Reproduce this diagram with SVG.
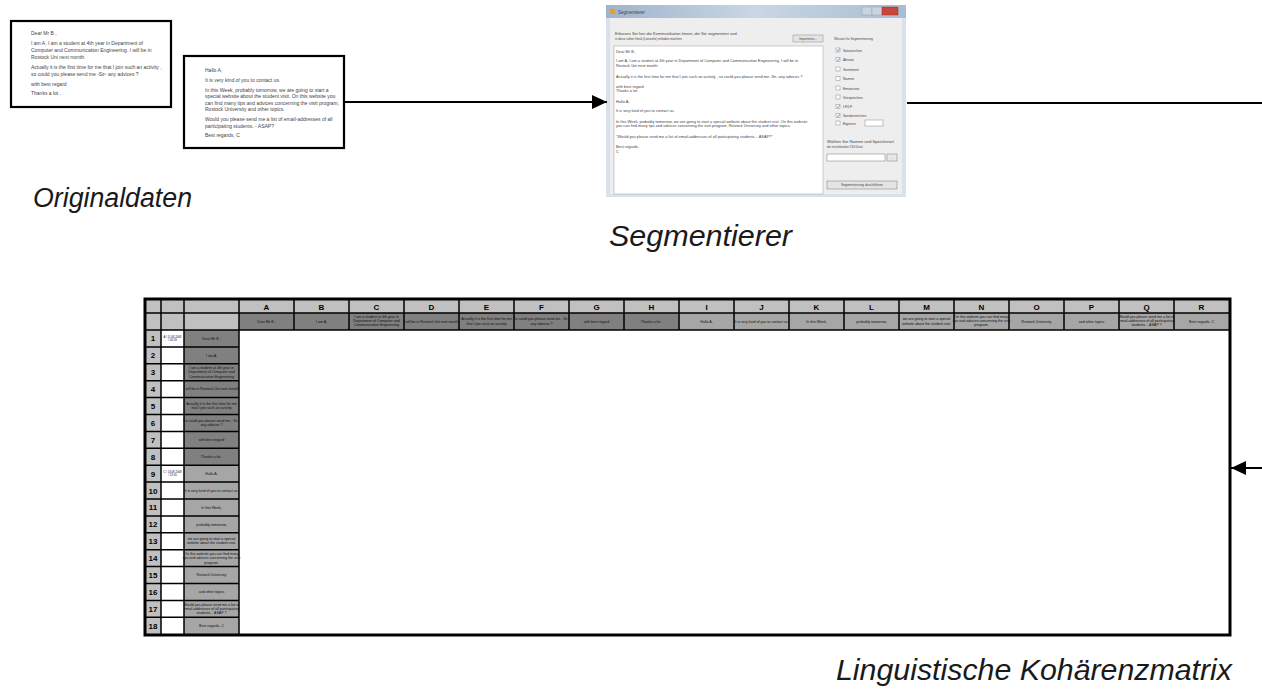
<svg xmlns="http://www.w3.org/2000/svg" width="1262" height="696" viewBox="0 0 1262 696">
<defs>
<style>
.doc{fill:#fff;stroke:#000;stroke-width:2.2}
.dt{font-family:"Liberation Sans",Arial,sans-serif;font-size:5px;fill:#444}
.lbl{font-family:"Liberation Sans",Arial,sans-serif;font-style:italic;fill:#1a1a1a}
.ct{font-family:"Liberation Sans",Arial,sans-serif;font-size:3.6px;text-anchor:middle;fill:#111}
.ts{font-family:"Liberation Sans",Arial,sans-serif;font-size:2.8px;text-anchor:middle;fill:#111}
.hl{font-family:"Liberation Sans",Arial,sans-serif;font-size:8px;font-weight:bold;text-anchor:middle;fill:#000}
.rn{font-family:"Liberation Sans",Arial,sans-serif;font-size:8px;font-weight:bold;text-anchor:middle;fill:#000}
.g{stroke:#000;stroke-width:1.5;fill:none}
.conn{stroke:#000;stroke-width:2;fill:none}
.st{font-family:"Liberation Sans",Arial,sans-serif;fill:#444}
.cb{fill:#fff;stroke:#8a8a8a;stroke-width:0.5}
</style>
<marker id="ah" markerUnits="userSpaceOnUse" markerWidth="16" markerHeight="14" refX="15" refY="7" orient="auto">
<path d="M0,0 L15,7 L0,14 z" fill="#000"/>
</marker>
<linearGradient id="tb" x1="0" y1="0" x2="1" y2="0">
<stop offset="0" stop-color="#9fb4cc"/>
<stop offset="0.5" stop-color="#c9d6e4"/>
<stop offset="1" stop-color="#a9bdd2"/>
</linearGradient>
</defs>
<rect width="1262" height="696" fill="#fff"/>

<g id="doc1">
<rect class="doc" x="11" y="21" width="160" height="86"/>
<text class="dt" x="31" y="35">Dear Mr B ,</text>
<text class="dt" x="31" y="45">I am A, I am a student at 4th year in Department of</text>
<text class="dt" x="31" y="52">Computer and Communication Engineering. I will be in</text>
<text class="dt" x="31" y="59">Rostock Uni next month.</text>
<text class="dt" x="31" y="69">Actually it is the first time for me that I join such an activity ,</text>
<text class="dt" x="31" y="75.5">so could you please send me -Sir- any advices ?</text>
<text class="dt" x="31" y="85.5">with best regard</text>
<text class="dt" x="31" y="95">Thanks a lot .</text>
</g>

<g id="doc2">
<rect class="doc" x="184" y="56" width="160" height="92"/>
<text class="dt" x="205" y="71.5">Hallo A,</text>
<text class="dt" x="205" y="81.5">It is very kind of you to contact us.</text>
<text class="dt" x="205" y="91.5">In this Week, probably tomorrow, we are going to start a</text>
<text class="dt" x="205" y="98">special website about the student visit. On this website you</text>
<text class="dt" x="205" y="104.5">can find many tips and advices concerning the visit program,</text>
<text class="dt" x="205" y="111">Rostock University and other topics.</text>
<text class="dt" x="205" y="120.5">Would you please send me a list of email-addresses of all</text>
<text class="dt" x="205" y="127.5">participating students. - ASAP?</text>
<text class="dt" x="205" y="136.5">Best regards, C</text>
</g>

<g id="segmentierer">
<rect x="606" y="5" width="300" height="192" fill="#d9e1ea"/>
<rect x="606" y="5" width="300" height="13" fill="url(#tb)"/>
<rect x="610" y="9" width="5" height="5" fill="#e0a030"/>
<text class="st" x="618" y="14" font-size="4.5">Segmentierer</text>
<rect x="862" y="7" width="10" height="8" fill="#c9d4e0" stroke="#8898aa" stroke-width="0.4"/>
<rect x="872" y="7" width="10" height="8" fill="#c9d4e0" stroke="#8898aa" stroke-width="0.4"/>
<rect x="882" y="7" width="16" height="8" fill="#c8463a" stroke="#8a2a22" stroke-width="0.4"/>
<rect x="610" y="18" width="292" height="176" fill="#eeeeee"/>
<text class="st" x="615" y="35" font-size="4">Erfassen Sie hier die Kommunikation hinein, die Sie segmentiert und</text>
<text class="st" x="615" y="39.5" font-size="3">in diese sollen Inhalt (Leerzeile) mitladen möchten</text>
<rect x="793" y="35" width="30" height="7" fill="#e4e4e4" stroke="#8a8a8a" stroke-width="0.5"/>
<text class="st" x="808" y="39.6" font-size="3" text-anchor="middle">Importieren...</text>
<rect x="614" y="46" width="209" height="148" fill="#fff" stroke="#a0a0a0" stroke-width="0.5"/>
<g font-size="3.9">
<text class="st" x="616" y="53">Dear Mr B ,</text>
<text class="st" x="616" y="62">I am A, I am a student at 4th year in Department of Computer and Communication Engineering. I will be in</text>
<text class="st" x="616" y="66.5">Rostock Uni next month.</text>
<text class="st" x="616" y="78">Actually it is the first time for me that I join such an activity , so could you please send me -Sir- any advices ?</text>
<text class="st" x="616" y="87.5">with best regard</text>
<text class="st" x="616" y="92">Thanks a lot .</text>
<text class="st" x="616" y="103">Hallo A,</text>
<text class="st" x="616" y="112">It is very kind of you to contact us.</text>
<text class="st" x="616" y="122.5">In this Week, probably tomorrow, we are going to start a special website about the student visit. On this website</text>
<text class="st" x="616" y="127">you can find many tips and advices concerning the visit program, Rostock University and other topics.</text>
<text class="st" x="616" y="138">"Would you please send me a list of email-addresses of all participating students. - ASAP?"</text>
<text class="st" x="616" y="148">Best regards,</text>
<text class="st" x="616" y="152.5">C</text>
</g>
<text class="st" x="834" y="39.5" font-size="3.3">Wissen für Segmentierung</text>
<g font-size="3.5">
<rect class="cb" x="836" y="48" width="4" height="4"/><text class="st" x="843" y="51.5">Satzzeichen</text>
<rect class="cb" x="836" y="57.5" width="4" height="4"/><text class="st" x="843" y="61">Absatz</text>
<rect class="cb" x="836" y="67" width="4" height="4"/><text class="st" x="843" y="70.5">Sentiment</text>
<rect class="cb" x="836" y="76.5" width="4" height="4"/><text class="st" x="843" y="80">Namen</text>
<rect class="cb" x="836" y="86" width="4" height="4"/><text class="st" x="843" y="89.5">Emoticons</text>
<rect class="cb" x="836" y="95" width="4" height="4"/><text class="st" x="843" y="98.5">Versprechen</text>
<rect class="cb" x="836" y="104.5" width="4" height="4"/><text class="st" x="843" y="108">LF/LF</text>
<rect class="cb" x="836" y="113.5" width="4" height="4"/><text class="st" x="843" y="117">Sonderzeichen</text>
<rect class="cb" x="836" y="121" width="4" height="4"/><text class="st" x="843" y="124.5">Eigenes</text>
<rect class="cb" x="865" y="120" width="18" height="6"/>
</g>
<g stroke="#3a5a8a" stroke-width="0.6" fill="none">
<path d="M836.8,50 l1.2,1.2 l1.6,-2.4"/>
<path d="M836.8,59.5 l1.2,1.2 l1.6,-2.4"/>
<path d="M836.8,106.5 l1.2,1.2 l1.6,-2.4"/>
<path d="M836.8,115.5 l1.2,1.2 l1.6,-2.4"/>
</g>
<text class="st" x="827" y="143" font-size="4.2">Wählen Sie Namen und Speicherort</text>
<text class="st" x="827" y="147.5" font-size="2.8">der entstehenden CSV-Datei</text>
<rect x="827" y="154" width="58" height="7" fill="#fff" stroke="#7a7a7a" stroke-width="0.5"/>
<rect x="887" y="154" width="10" height="7" fill="#e8e8e8" stroke="#7a7a7a" stroke-width="0.5"/>
<text class="st" x="892" y="158.5" font-size="3" text-anchor="middle">...</text>
<rect x="827" y="181" width="70" height="8" fill="#e4e4e4" stroke="#7a7a7a" stroke-width="0.5"/>
<text class="st" x="862" y="186" font-size="3.4" text-anchor="middle">Segmentierung durchführen</text>
</g>

<g id="matrix">
<rect x="145" y="300" width="1085" height="13" fill="#c0c0c0"/>
<rect x="145" y="313" width="94" height="17" fill="#c0c0c0"/>
<rect x="239" y="313" width="440" height="17" fill="#808080"/>
<rect x="679" y="313" width="550" height="17" fill="#a6a6a6"/>
<rect x="145" y="330" width="16" height="304.2" fill="#c0c0c0"/>
<rect x="184" y="330" width="55" height="135.2" fill="#808080"/>
<rect x="184" y="465.2" width="55" height="169" fill="#a6a6a6"/>
<path class="g" d="M161,300V634.2M184,300V634.2M239,300V634.2M294,300V330M349,300V330M404,300V330M459,300V330M514,300V330M569,300V330M624,300V330M679,300V330M734,300V330M789,300V330M844,300V330M899,300V330M954,300V330M1009,300V330M1064,300V330M1119,300V330M1174,300V330M145,313H1229M145,330H1229M145,346.9H239M145,363.8H239M145,380.7H239M145,397.6H239M145,414.5H239M145,431.4H239M145,448.3H239M145,465.2H239M145,482.1H239M145,499H239M145,515.9H239M145,532.8H239M145,549.7H239M145,566.6H239M145,583.5H239M145,600.4H239M145,617.3H239"/>
<rect x="145" y="299" width="1085" height="336" fill="none" stroke="#000" stroke-width="3"/>
<g>
<text class="hl" x="266.5" y="310">A</text><text class="hl" x="321.5" y="310">B</text><text class="hl" x="376.5" y="310">C</text><text class="hl" x="431.5" y="310">D</text><text class="hl" x="486.5" y="310">E</text><text class="hl" x="541.5" y="310">F</text><text class="hl" x="596.5" y="310">G</text><text class="hl" x="651.5" y="310">H</text><text class="hl" x="706.5" y="310">I</text><text class="hl" x="761.5" y="310">J</text><text class="hl" x="816.5" y="310">K</text><text class="hl" x="871.5" y="310">L</text><text class="hl" x="926.5" y="310">M</text><text class="hl" x="981.5" y="310">N</text><text class="hl" x="1036.5" y="310">O</text><text class="hl" x="1091.5" y="310">P</text><text class="hl" x="1146.5" y="310">Q</text><text class="hl" x="1201.5" y="310">R</text>
</g>
<g>
<text class="ct" x="266.5" y="322.7">Dear Mr B ,</text>
<text class="ct" x="321.5" y="322.7">I am A,</text>
<text class="ct" x="376.5" y="318">I am a student at 4th year in</text><text class="ct" x="376.5" y="322.2">Department of Computer and</text><text class="ct" x="376.5" y="326.4">Communication Engineering</text>
<text class="ct" x="431.5" y="322.7">I will be in Rostock Uni next month.</text>
<text class="ct" x="486.5" y="320.4">Actually it is the first time for me</text><text class="ct" x="486.5" y="324.6">that I join such an activity</text>
<text class="ct" x="541.5" y="320.4">So could you please send me - Sir -</text><text class="ct" x="541.5" y="324.6">any advices ?</text>
<text class="ct" x="596.5" y="322.7">with best regard</text>
<text class="ct" x="651.5" y="322.7">Thanks a lot .</text>
<text class="ct" x="706.5" y="322.7">Hallo A,</text>
<text class="ct" x="761.5" y="322.7">It is very kind of you to contact us.</text>
<text class="ct" x="816.5" y="322.7">In this Week,</text>
<text class="ct" x="871.5" y="322.7">probably tomorrow,</text>
<text class="ct" x="926.5" y="320.4">we are going to start a special</text><text class="ct" x="926.5" y="324.6">website about the student visit.</text>
<text class="ct" x="981.5" y="318">On this website you can find many</text><text class="ct" x="981.5" y="322.2">tips and advices concerning the visit</text><text class="ct" x="981.5" y="326.4">program.</text>
<text class="ct" x="1036.5" y="322.7">Rostock University</text>
<text class="ct" x="1091.5" y="322.7">and other topics</text>
<text class="ct" x="1146.5" y="318">Would you please send me a list of</text><text class="ct" x="1146.5" y="322.2">email-addresses of all participating</text><text class="ct" x="1146.5" y="326.4">students. - ASAP ?</text>
<text class="ct" x="1201.5" y="322.7">Best regards, C</text>
</g>
<g>
<text class="rn" x="153" y="341.4">1</text><text class="rn" x="153" y="358.3">2</text><text class="rn" x="153" y="375.2">3</text><text class="rn" x="153" y="392.1">4</text><text class="rn" x="153" y="409">5</text><text class="rn" x="153" y="425.9">6</text><text class="rn" x="153" y="442.8">7</text><text class="rn" x="153" y="459.7">8</text><text class="rn" x="153" y="476.6">9</text><text class="rn" x="153" y="493.5">10</text><text class="rn" x="153" y="510.4">11</text><text class="rn" x="153" y="527.3">12</text><text class="rn" x="153" y="544.2">13</text><text class="rn" x="153" y="561.1">14</text><text class="rn" x="153" y="578">15</text><text class="rn" x="153" y="594.9">16</text><text class="rn" x="153" y="611.8">17</text><text class="rn" x="153" y="628.7">18</text>
</g>
<g>
<text class="ts" x="172.5" y="337.6">A / 11.08.2008</text><text class="ts" x="172.5" y="341">/ 04:59</text>
<text class="ts" x="172.5" y="472.8">C / 13.08.2008</text><text class="ts" x="172.5" y="476.2">/ 13:45</text>
</g>
<g>
<text class="ct" x="211.5" y="339.7">Dear Mr B ,</text>
<text class="ct" x="211.5" y="356.6">I am A,</text>
<text class="ct" x="211.5" y="369.2">I am a student at 4th year in</text><text class="ct" x="211.5" y="373.4">Department of Computer and</text><text class="ct" x="211.5" y="377.6">Communication Engineering</text>
<text class="ct" x="211.5" y="390.4">I will be in Rostock Uni next month.</text>
<text class="ct" x="211.5" y="405">Actually it is the first time for me</text><text class="ct" x="211.5" y="409.2">that I join such an activity</text>
<text class="ct" x="211.5" y="421.9">So could you please send me - Sir -</text><text class="ct" x="211.5" y="426.1">any advices ?</text>
<text class="ct" x="211.5" y="441.1">with best regard</text>
<text class="ct" x="211.5" y="458">Thanks a lot .</text>
<text class="ct" x="211.5" y="474.9">Hallo A,</text>
<text class="ct" x="211.5" y="491.8">It is very kind of you to contact us.</text>
<text class="ct" x="211.5" y="508.7">In this Week,</text>
<text class="ct" x="211.5" y="525.6">probably tomorrow,</text>
<text class="ct" x="211.5" y="540.2">we are going to start a special</text><text class="ct" x="211.5" y="544.4">website about the student visit.</text>
<text class="ct" x="211.5" y="555.1">On this website you can find many</text><text class="ct" x="211.5" y="559.3">tips and advices concerning the visit</text><text class="ct" x="211.5" y="563.5">program.</text>
<text class="ct" x="211.5" y="576.3">Rostock University</text>
<text class="ct" x="211.5" y="593.2">and other topics</text>
<text class="ct" x="211.5" y="605.8">Would you please send me a list of</text><text class="ct" x="211.5" y="610">email-addresses of all participating</text><text class="ct" x="211.5" y="614.2">students. - ASAP ?</text>
<text class="ct" x="211.5" y="627">Best regards, C</text>
</g>
</g>

<g id="connectors">
<path class="conn" d="M344,102H607" marker-end="url(#ah)"/>
<path class="conn" d="M907,103H1262"/>
<path class="conn" d="M1262,468H1231" marker-end="url(#ah)"/>
</g>

<g id="labels">
<text class="lbl" x="33" y="207" font-size="27" textLength="159" lengthAdjust="spacingAndGlyphs">Originaldaten</text>
<text class="lbl" x="609" y="246" font-size="30" textLength="183" lengthAdjust="spacingAndGlyphs">Segmentierer</text>
<text class="lbl" x="836" y="680" font-size="30" textLength="396" lengthAdjust="spacingAndGlyphs">Linguistische Kohärenzmatrix</text>
</g>
</svg>
